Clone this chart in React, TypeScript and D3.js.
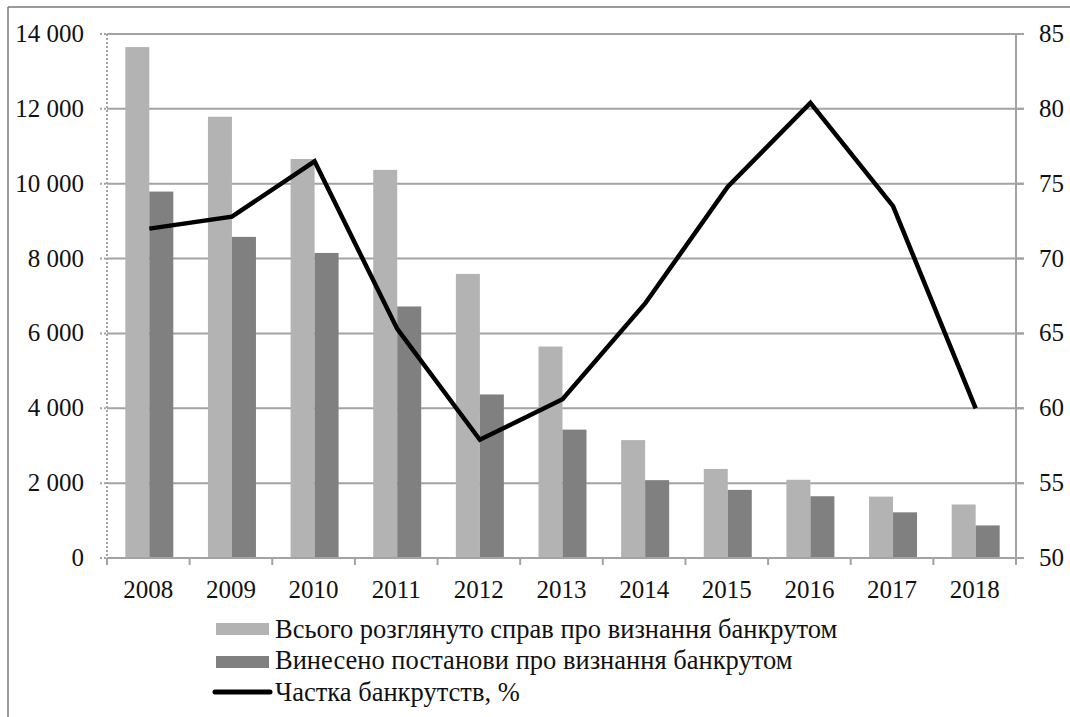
import React from "react";
import * as d3 from "d3";

const years = ["2008", "2009", "2010", "2011", "2012", "2013", "2014", "2015", "2016", "2017", "2018"];
const totalCases = [13650, 11790, 10660, 10370, 7590, 5650, 3150, 2380, 2090, 1640, 1430];
const rulings = [9790, 8580, 8150, 6720, 4370, 3430, 2080, 1820, 1650, 1220, 870];
const bankruptShare = [72.0, 72.8, 76.5, 65.3, 57.9, 60.6, 67.0, 74.8, 80.4, 73.5, 60.0];
const leftTicks = [0, 2000, 4000, 6000, 8000, 10000, 12000, 14000];
const rightTicks = [50, 55, 60, 65, 70, 75, 80, 85];
const legendLabels = [
  "Всього розглянуто справ про визнання банкрутом",
  "Винесено постанови про визнання банкрутом",
  "Частка банкрутств, %",
];

const W = 1070;
const H = 717;
const L = 107;
const R = 1016;
const T = 34;
const B = 558;
const FONT = "'Liberation Serif', 'Times New Roman', serif";
const GRID = "#a3a3a3";
const LIGHT = "#b3b3b3";
const DARK = "#808080";

const fmt = (v: number) => {
  const s = String(v);
  return s.length > 3 ? s.slice(0, s.length - 3) + " " + s.slice(-3) : s;
};

export default function App() {
  const x = d3.scaleBand<string>().domain(years).range([L, R]).padding(0);
  const yL = d3.scaleLinear().domain([0, 14000]).range([B, T]);
  const yR = d3.scaleLinear().domain([50, 85]).range([B, T]);
  const barW = 24;
  const line = d3
    .line<number>()
    .x((_, i) => x(years[i])! + x.bandwidth() / 2 + 1)
    .y((d) => yR(d));

  return (
    <svg
      width={W}
      height={H}
      style={{ position: "absolute", left: 0, top: 0, background: "#fff" }}
      fontFamily={FONT}
    >
      <rect x={0} y={0} width={W} height={H} fill="#fff" />
      {/* frame */}
      <line x1={8} x2={8} y1={7} y2={H} stroke="#777" strokeWidth={1.5} />
      <line x1={8} x2={W} y1={7} y2={7} stroke="#777" strokeWidth={1.5} />

      {/* gridlines */}
      {leftTicks.map((t) => (
        <g key={"g" + t}>
          {t > 0 && (
            <line x1={L} x2={R + 8} y1={yL(t)} y2={yL(t)} stroke={GRID} strokeWidth={2} />
          )}
          <line x1={L - 7} x2={L} y1={yL(t)} y2={yL(t)} stroke={GRID} strokeWidth={2} strokeDasharray="2,2" />
          <text x={84} y={yL(t) + 8} textAnchor="end" fontSize={25} fill="#111">
            {fmt(t)}
          </text>
        </g>
      ))}
      {rightTicks.map((t) => (
        <g key={"r" + t}>
          <line x1={R} x2={R + 8} y1={yR(t)} y2={yR(t)} stroke={GRID} strokeWidth={2} />
          <text x={1039} y={yR(t) + 8} textAnchor="start" fontSize={25} fill="#111">
            {t}
          </text>
        </g>
      ))}

      {/* left dotted axis */}
      <line x1={L} x2={L} y1={T} y2={B + 6} stroke={GRID} strokeWidth={2} strokeDasharray="2,2" />

      {/* bars */}
      {years.map((yr, i) => {
        const c = x(yr)! + x.bandwidth() / 2 + 1;
        return (
          <g key={"b" + yr}>
            <rect x={c - barW} y={yL(totalCases[i])} width={barW} height={B - yL(totalCases[i])} fill={LIGHT} />
            <rect x={c} y={yL(rulings[i])} width={barW} height={B - yL(rulings[i])} fill={DARK} />
          </g>
        );
      })}

      {/* bottom axis */}
      <line x1={L} x2={R} y1={B} y2={B} stroke={GRID} strokeWidth={2} />
      {[...years.map((yr) => x(yr)!), R].map((p, i) => (
        <line key={"t" + i} x1={p} x2={p} y1={B} y2={B + 7} stroke={GRID} strokeWidth={2} />
      ))}
      {years.map((yr) => (
        <text key={"l" + yr} x={x(yr)! + x.bandwidth() / 2} y={598} textAnchor="middle" fontSize={25} fill="#111">
          {yr}
        </text>
      ))}

      {/* right axis */}
      <line x1={R} x2={R} y1={T} y2={B + 7} stroke={GRID} strokeWidth={2} />

      {/* line */}
      <path d={line(bankruptShare)!} fill="none" stroke="#000" strokeWidth={4.5} strokeLinejoin="miter" />

      {/* legend */}
      <rect x={216} y={623} width={53} height={12} fill={LIGHT} />
      <text x={275} y={638} fontSize={26.5} fill="#111">{legendLabels[0]}</text>
      <rect x={216} y={656} width={53} height={12} fill={DARK} />
      <text x={275} y={669} fontSize={26.5} fill="#111">{legendLabels[1]}</text>
      <line x1={215} x2={270} y1={692} y2={692} stroke="#000" strokeWidth={5} strokeLinecap="round" />
      <text x={275} y={701} fontSize={26.5} fill="#111">{legendLabels[2]}</text>
    </svg>
  );
}
